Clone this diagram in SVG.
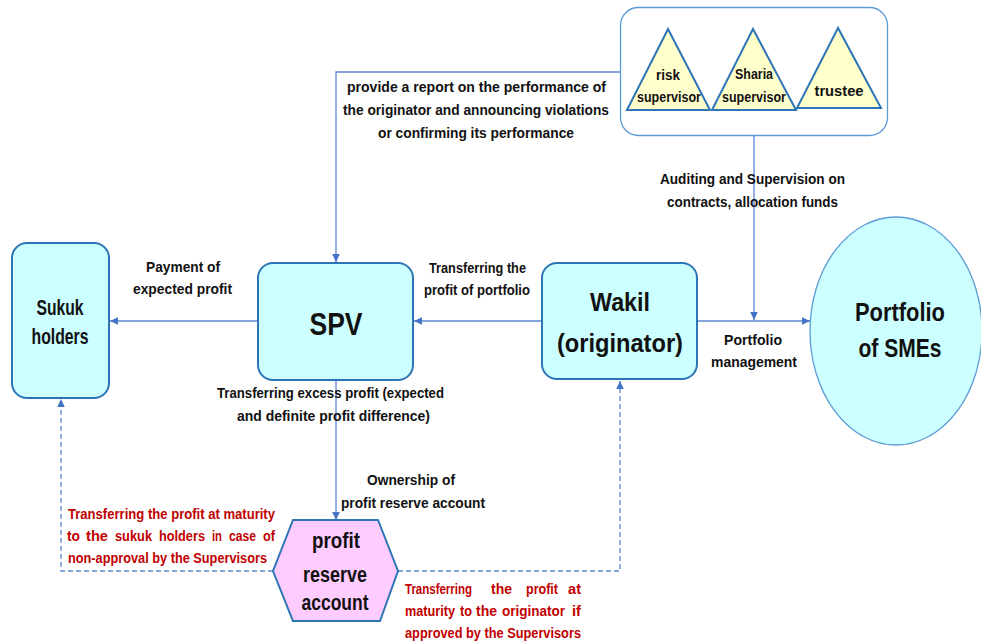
<svg xmlns="http://www.w3.org/2000/svg" width="981" height="643" viewBox="0 0 981 643">
<defs>
<marker id="arr" markerUnits="userSpaceOnUse" markerWidth="10" markerHeight="10" refX="9" refY="5" orient="auto">
<path d="M1,1.2 L9,5 L1,8.8 Z" fill="#4472C4"/>
</marker>
<style>
text{font-family:'Liberation Sans Narrow','Liberation Sans',Arial,sans-serif;font-weight:bold;fill:#111;text-anchor:middle}
.lbl{font-size:15px}
.red{font-size:14px;fill:#C00000;text-anchor:start}
.tri{font-size:14px}
.box{fill:#CCFFFF;stroke:#2E75B6;stroke-width:2}
.con{fill:none;stroke:#5B87D4;stroke-width:1.3}
.dash{stroke-dasharray:5 3}
</style>
</defs>
<rect width="981" height="643" fill="#fff"/>

<g id="connectors">
<path class="con" d="M620,72 H336 V262" marker-end="url(#arr)"/>
<path class="con" d="M754,136 V320" marker-end="url(#arr)"/>
<path class="con" d="M258,321 H110" marker-end="url(#arr)"/>
<path class="con" d="M542,321 H414" marker-end="url(#arr)"/>
<path class="con" d="M697,321 H810" marker-end="url(#arr)"/>
<path class="con" d="M336,380 V520" marker-end="url(#arr)"/>
<path class="con dash" d="M273,571 H61 V399" marker-end="url(#arr)"/>
<path class="con dash" d="M398,571 H620 V381" marker-end="url(#arr)"/>
</g>

<g id="supervisors">
<rect x="620.5" y="7.5" width="267" height="128" rx="18" fill="#fff" stroke="#5B9BD5" stroke-width="1.3"/>
<g id="risk-supervisor">
<polygon points="668,29 627,110 710,110" fill="#FFFFCC" stroke="#2E75B6" stroke-width="2"/>
<text class="tri" x="668" y="80" textLength="24" lengthAdjust="spacingAndGlyphs">risk</text>
<text class="tri" x="669" y="102" textLength="64" lengthAdjust="spacingAndGlyphs">supervisor</text>
</g>
<g id="sharia-supervisor">
<polygon points="753,29 712,110 796,110" fill="#FFFFCC" stroke="#2E75B6" stroke-width="2"/>
<text class="tri" x="754" y="79" textLength="38" lengthAdjust="spacingAndGlyphs">Sharia</text>
<text class="tri" x="754" y="102" textLength="64" lengthAdjust="spacingAndGlyphs">supervisor</text>
</g>
<g id="trustee">
<polygon points="838,28 797,108 881,108" fill="#FFFFCC" stroke="#2E75B6" stroke-width="2"/>
<text x="839" y="96" style="font-size:15px" textLength="49" lengthAdjust="spacingAndGlyphs">trustee</text>
</g>
</g>

<g id="sukuk-holders">
<rect class="box" x="12" y="243" width="97" height="155" rx="15"/>
<text x="60" y="315" style="font-size:22px" textLength="47" lengthAdjust="spacingAndGlyphs">Sukuk</text>
<text x="60" y="344" style="font-size:22px" textLength="57" lengthAdjust="spacingAndGlyphs">holders</text>
</g>

<g id="spv">
<rect class="box" x="258" y="263" width="155" height="117" rx="15"/>
<text x="336" y="335" style="font-size:32px" textLength="53" lengthAdjust="spacingAndGlyphs">SPV</text>
</g>

<g id="wakil">
<rect class="box" x="542" y="263" width="155" height="116" rx="15"/>
<text x="620" y="311" style="font-size:25px" textLength="60" lengthAdjust="spacingAndGlyphs">Wakil</text>
<text x="620" y="352" style="font-size:25px" textLength="126" lengthAdjust="spacingAndGlyphs">(originator)</text>
</g>

<g id="portfolio">
<ellipse cx="896" cy="331" rx="86" ry="114" fill="#CCFFFF" stroke="#5B9BD5" stroke-width="1.3"/>
<text x="900" y="321" style="font-size:26px" textLength="90" lengthAdjust="spacingAndGlyphs">Portfolio</text>
<text x="900" y="357" style="font-size:26px" textLength="83" lengthAdjust="spacingAndGlyphs">of SMEs</text>
</g>

<g id="profit-reserve-account">
<polygon points="293,520 378,520 398,571 380,621 293,621 273,571" fill="#FFCCFF" stroke="#2E75B6" stroke-width="2"/>
<text x="336" y="548" style="font-size:22px" textLength="48" lengthAdjust="spacingAndGlyphs">profit</text>
<text x="335" y="582" style="font-size:22px" textLength="64" lengthAdjust="spacingAndGlyphs">reserve</text>
<text x="335" y="610" style="font-size:22px" textLength="67" lengthAdjust="spacingAndGlyphs">account</text>
</g>

<g id="labels">
<text class="lbl" x="476.5" y="92" textLength="259" lengthAdjust="spacingAndGlyphs">provide a report on the performance of</text>
<text class="lbl" x="476" y="115" textLength="266" lengthAdjust="spacingAndGlyphs">the originator and announcing violations</text>
<text class="lbl" x="476" y="138" textLength="196" lengthAdjust="spacingAndGlyphs">or confirming its performance</text>

<text class="lbl" x="752.5" y="184" textLength="185" lengthAdjust="spacingAndGlyphs">Auditing and Supervision on</text>
<text class="lbl" x="752.5" y="207" textLength="171" lengthAdjust="spacingAndGlyphs">contracts, allocation funds</text>

<text class="lbl" x="183" y="272" textLength="74" lengthAdjust="spacingAndGlyphs">Payment of</text>
<text class="lbl" x="182.5" y="294" textLength="99" lengthAdjust="spacingAndGlyphs">expected profit</text>

<text class="lbl" x="477.5" y="273" textLength="97" lengthAdjust="spacingAndGlyphs">Transferring the</text>
<text class="lbl" x="477" y="295" textLength="106" lengthAdjust="spacingAndGlyphs">profit of portfolio</text>

<text class="lbl" x="753" y="345" textLength="58" lengthAdjust="spacingAndGlyphs">Portfolio</text>
<text class="lbl" x="754" y="367" textLength="86" lengthAdjust="spacingAndGlyphs">management</text>

<text class="lbl" x="330.5" y="398" textLength="227" lengthAdjust="spacingAndGlyphs">Transferring excess profit (expected</text>
<text class="lbl" x="333.5" y="421" textLength="193" lengthAdjust="spacingAndGlyphs">and definite profit difference)</text>

<text class="lbl" x="411" y="485" textLength="88" lengthAdjust="spacingAndGlyphs">Ownership of</text>
<text class="lbl" x="413" y="508" textLength="144" lengthAdjust="spacingAndGlyphs">profit reserve account</text>

<text class="red" x="68" y="519" textLength="207" lengthAdjust="spacingAndGlyphs">Transferring the profit at maturity</text>
<text class="red" x="67" y="541" textLength="13" lengthAdjust="spacingAndGlyphs">to</text>
<text class="red" x="86" y="541" textLength="22" lengthAdjust="spacingAndGlyphs">the</text>
<text class="red" x="115" y="541" textLength="37" lengthAdjust="spacingAndGlyphs">sukuk</text>
<text class="red" x="159" y="541" textLength="46" lengthAdjust="spacingAndGlyphs">holders</text>
<text class="red" x="212" y="541" textLength="10" lengthAdjust="spacingAndGlyphs">in</text>
<text class="red" x="229" y="541" textLength="27" lengthAdjust="spacingAndGlyphs">case</text>
<text class="red" x="263" y="541" textLength="12" lengthAdjust="spacingAndGlyphs">of</text>
<text class="red" x="68" y="563" textLength="199" lengthAdjust="spacingAndGlyphs">non-approval by the Supervisors</text>

<text class="red" x="405" y="594" textLength="67" lengthAdjust="spacingAndGlyphs">Transferring</text>
<text class="red" x="491" y="594" textLength="21" lengthAdjust="spacingAndGlyphs">the</text>
<text class="red" x="526" y="594" textLength="32" lengthAdjust="spacingAndGlyphs">profit</text>
<text class="red" x="568" y="594" textLength="13" lengthAdjust="spacingAndGlyphs">at</text>
<text class="red" x="405" y="616" textLength="50" lengthAdjust="spacingAndGlyphs">maturity</text>
<text class="red" x="460" y="616" textLength="12" lengthAdjust="spacingAndGlyphs">to</text>
<text class="red" x="476" y="616" textLength="21" lengthAdjust="spacingAndGlyphs">the</text>
<text class="red" x="502" y="616" textLength="63" lengthAdjust="spacingAndGlyphs">originator</text>
<text class="red" x="572" y="616" textLength="9" lengthAdjust="spacingAndGlyphs">if</text>
<text class="red" x="405" y="638" textLength="176" lengthAdjust="spacingAndGlyphs">approved by the Supervisors</text>
</g>
</svg>
